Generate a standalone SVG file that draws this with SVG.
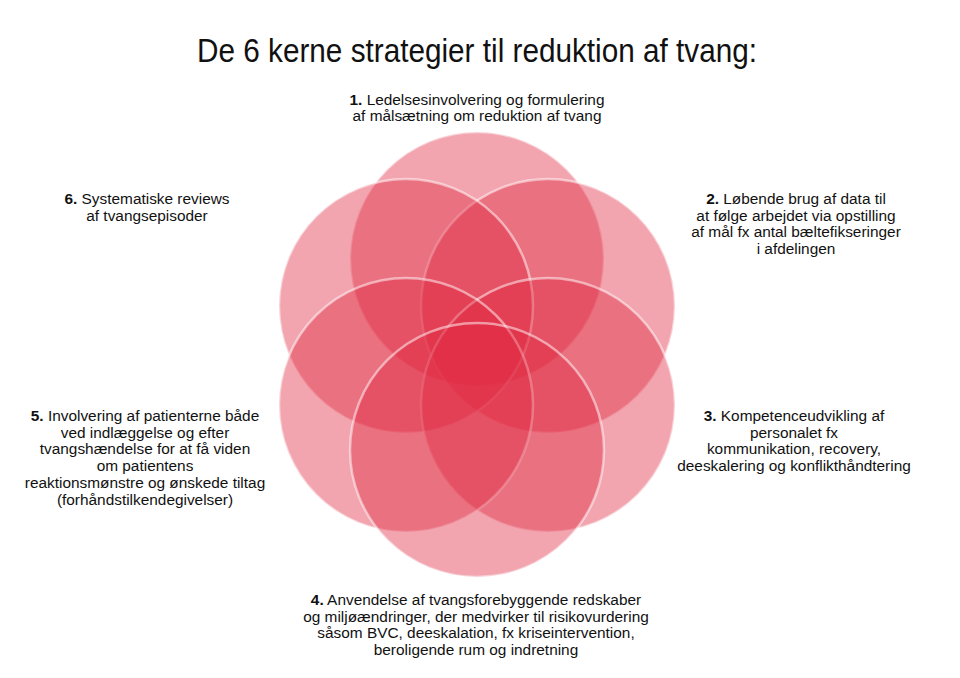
<svg xmlns="http://www.w3.org/2000/svg" width="960" height="678" viewBox="0 0 960 678">
<style>
.bg{fill:#ffffff}
.c{fill:#e02941;fill-opacity:0.42;stroke:#ffffff;stroke-opacity:0.5;stroke-width:2.5}
.t{font-family:"Liberation Sans",Arial,Helvetica,sans-serif;font-size:15.4px;fill:#111111;text-anchor:middle}
.title{font-family:"Liberation Sans",Arial,Helvetica,sans-serif;font-size:34px;fill:#111111;text-anchor:middle}
.b{font-weight:bold}
</style>
<rect class="bg" x="0" y="0" width="960" height="678"/>
<text class="title" x="477" y="62" textLength="560" lengthAdjust="spacingAndGlyphs">De 6 kerne strategier til reduktion af tvang:</text>
<g id="circles">
<circle id="circle1" class="c" cx="477" cy="259" r="127"/>
<circle id="circle2" class="c" cx="548" cy="306" r="127"/>
<circle id="circle6" class="c" cx="406" cy="306" r="127"/>
<circle id="circle3" class="c" cx="548" cy="405" r="127"/>
<circle id="circle5" class="c" cx="406" cy="405" r="127"/>
<circle id="circle4" class="c" cx="477" cy="450" r="127"/>
</g>
<g id="connectors"></g>
<g id="label1">
<text class="t" x="477" y="104.5"><tspan class="b">1.</tspan> Ledelsesinvolvering og formulering</text>
<text class="t" x="477" y="121.2">af målsætning om reduktion af tvang</text>
</g>
<g id="label2">
<text class="t" x="796" y="204"><tspan class="b">2.</tspan> Løbende brug af data til</text>
<text class="t" x="796" y="220.7">at følge arbejdet via opstilling</text>
<text class="t" x="796" y="237.4">af mål fx antal bæltefikseringer</text>
<text class="t" x="796" y="254">i afdelingen</text>
</g>
<g id="label3">
<text class="t" x="794" y="421"><tspan class="b">3.</tspan> Kompetenceudvikling af</text>
<text class="t" x="794" y="437.7">personalet fx</text>
<text class="t" x="794" y="454.4">kommunikation, recovery,</text>
<text class="t" x="794" y="471">deeskalering og konflikthåndtering</text>
</g>
<g id="label4">
<text class="t" x="476" y="605"><tspan class="b">4.</tspan> Anvendelse af tvangsforebyggende redskaber</text>
<text class="t" x="476" y="621.7">og miljøændringer, der medvirker til risikovurdering</text>
<text class="t" x="476" y="638.4">såsom BVC, deeskalation, fx kriseintervention,</text>
<text class="t" x="476" y="655">beroligende rum og indretning</text>
</g>
<g id="label5">
<text class="t" x="145" y="421"><tspan class="b">5.</tspan> Involvering af patienterne både</text>
<text class="t" x="145" y="437.7">ved indlæggelse og efter</text>
<text class="t" x="145" y="454.4">tvangshændelse for at få viden</text>
<text class="t" x="145" y="471.1">om patientens</text>
<text class="t" x="145" y="487.8">reaktionsmønstre og ønskede tiltag</text>
<text class="t" x="145" y="504.5">(forhåndstilkendegivelser)</text>
</g>
<g id="label6">
<text class="t" x="147" y="204"><tspan class="b">6.</tspan> Systematiske reviews</text>
<text class="t" x="147" y="220.7">af tvangsepisoder</text>
</g>
</svg>
